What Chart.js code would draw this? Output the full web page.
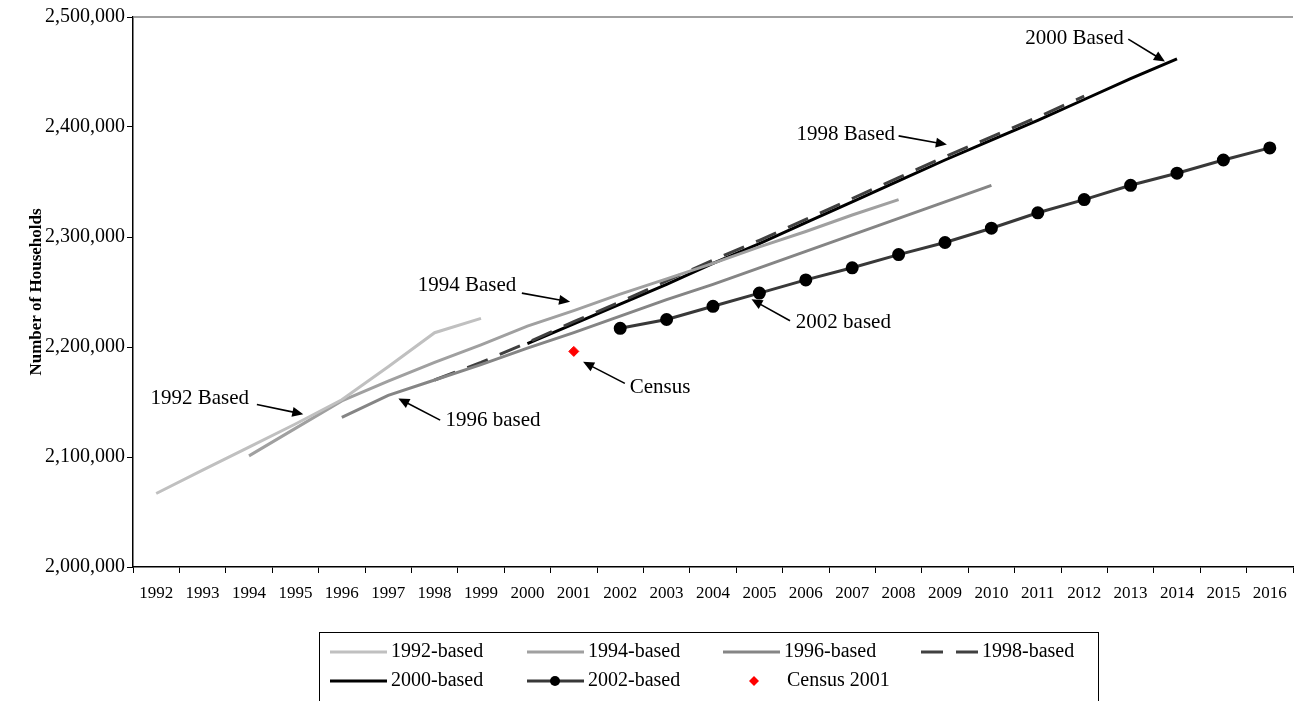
<!DOCTYPE html>
<html>
<head>
<meta charset="utf-8">
<title>Household projections</title>
<script src="https://cdn.jsdelivr.net/npm/chart.js@4.4.1/dist/chart.umd.min.js"></script>
<style>
  body { margin: 0; background: #fff; }
  #wrap { width: 1294px; height: 701px; }
</style>
</head>
<body>
<div id="wrap"><canvas id="chart" width="1294" height="701"></canvas></div>
<script>
const years = ["1992", "1993", "1994", "1995", "1996", "1997", "1998", "1999", "2000", "2001", "2002", "2003", "2004",
  "2005", "2006", "2007", "2008", "2009", "2010", "2011", "2012", "2013", "2014", "2015", "2016"];

const based1992 = [2066800, 2088000, 2109000, 2130000, 2152000, 2182000, 2213000, 2226000,
  null, null, null, null, null, null, null, null, null, null, null, null, null, null, null, null, null];
const based1994 = [null, null, 2101000, 2126000, 2151000, 2169000, 2186000, 2202000, 2219000, 2233000, 2248000,
  2262000, 2276000, 2291000, 2305000, 2320000, 2334000, null, null, null, null, null, null, null, null];
const based1996 = [null, null, null, null, 2136000, 2156000, 2170000, 2184000, 2199000, 2213000, 2228000, 2243000,
  2257000, 2272000, 2287000, 2302000, 2317000, 2332000, 2347000, null, null, null, null, null, null];
const based1998 = [null, null, null, null, null, null, 2170000, 2186000, 2204000, 2223000, 2241000, 2260000,
  2279000, 2297000, 2316000, 2335000, 2354000, 2373000, 2391000, 2409000, 2428000, null, null, null, null];
const based2000 = [null, null, null, null, null, null, null, null, 2203000, 2221000, 2239000, 2257000, 2276000,
  2294000, 2313000, 2332000, 2351000, 2370000, 2388000, 2406000, 2425000, 2444000, 2462000, null, null];
const based2002 = [null, null, null, null, null, null, null, null, null, null, 2217000, 2225000, 2237000, 2249000,
  2261000, 2272000, 2284000, 2295000, 2308000, 2322000, 2334000, 2347000, 2358000, 2370000, 2381000];
const census2001 = [null, null, null, null, null, null, null, null, null, 2196000,
  null, null, null, null, null, null, null, null, null, null, null, null, null, null, null];

// labels on the plot: text centre, arrow start, arrow tip (x in years, y in households)
const notes = [
  { text: "1992 Based", tx: 1992.94, ty: 2153500, fx: 1994.17, fy: 2147800, ax: 1995.17, ay: 2138900 },
  { text: "1994 Based", tx: 1998.70, ty: 2256300, fx: 1999.88, fy: 2249000, ax: 2000.92, ay: 2241100 },
  { text: "1996 based", tx: 1999.26, ty: 2133500, fx: 1998.12, fy: 2133500, ax: 1997.22, ay: 2153200 },
  { text: "Census", tx: 2002.86, ty: 2163500, fx: 2002.10, fy: 2166900, ax: 2001.20, ay: 2186500 },
  { text: "2002 based", tx: 2006.81, ty: 2222000, fx: 2005.66, fy: 2223800, ax: 2004.83, ay: 2243300 },
  { text: "1998 Based", tx: 2006.86, ty: 2392800, fx: 2008.00, fy: 2391900, ax: 2009.04, ay: 2384000 },
  { text: "2000 Based", tx: 2011.79, ty: 2480800, fx: 2012.95, fy: 2479900, ax: 2013.74, ay: 2459500 }
];

const serif = "'Liberation Serif', 'Times New Roman', serif";

function drawArrow(ctx, x1, y1, x2, y2) {
  const ang = Math.atan2(y2 - y1, x2 - x1);
  const head = 11, half = 5;
  const c = Math.cos(ang), s = Math.sin(ang);
  ctx.beginPath();
  ctx.moveTo(x1, y1);
  ctx.lineTo(x2 - head * c * 0.7, y2 - head * s * 0.7);
  ctx.stroke();
  ctx.beginPath();
  ctx.moveTo(x2, y2);
  ctx.lineTo(x2 - head * c + half * s, y2 - head * s - half * c);
  ctx.lineTo(x2 - head * c - half * s, y2 - head * s + half * c);
  ctx.closePath();
  ctx.fill();
}

// legend slots: sample start x, row y
const legendSlots = [[330, 652], [527, 652], [723, 652], [921, 652], [330, 681], [527, 681], [726, 681]];

const extras = {
  id: "extras",
  afterDraw(chart) {
    const ctx = chart.ctx;
    const xs = chart.scales.x, ys = chart.scales.y;
    const area = chart.chartArea;

    ctx.save();
    // top edge of the plot
    ctx.strokeStyle = "#808080";
    ctx.lineWidth = 1.5;
    ctx.beginPath();
    ctx.moveTo(area.left, area.top);
    ctx.lineTo(area.right, area.top);
    ctx.stroke();

    // notes with arrows
    ctx.fillStyle = "#000";
    ctx.strokeStyle = "#000";
    ctx.lineWidth = 1.6;
    ctx.font = "21px " + serif;
    ctx.textAlign = "center";
    ctx.textBaseline = "middle";
    notes.forEach(n => {
      ctx.fillText(n.text, xs.getPixelForValue(n.tx - 1992), ys.getPixelForValue(n.ty));
      drawArrow(ctx,
        xs.getPixelForValue(n.fx - 1992), ys.getPixelForValue(n.fy),
        xs.getPixelForValue(n.ax - 1992), ys.getPixelForValue(n.ay));
    });

    // legend
    ctx.lineWidth = 1;
    ctx.strokeStyle = "#000";
    ctx.strokeRect(319.5, 632.5, 779, 80);
    ctx.font = "20px " + serif;
    ctx.textAlign = "left";
    chart.data.datasets.forEach((d, i) => {
      const [x, y] = legendSlots[i];
      if (d.showLine === false) {
        ctx.fillStyle = d.pointBackgroundColor;
        ctx.beginPath();
        ctx.moveTo(x + 28, y - 5);
        ctx.lineTo(x + 33, y);
        ctx.lineTo(x + 28, y + 5);
        ctx.lineTo(x + 23, y);
        ctx.closePath();
        ctx.fill();
        ctx.fillStyle = "#000";
        ctx.fillText(d.label, x + 61, y);
        return;
      }
      ctx.strokeStyle = d.borderColor;
      ctx.lineWidth = d.borderWidth;
      ctx.setLineDash(d.borderDash || []);
      ctx.beginPath();
      ctx.moveTo(x, y);
      ctx.lineTo(x + 57, y);
      ctx.stroke();
      ctx.setLineDash([]);
      if (d.pointRadius) {
        ctx.fillStyle = d.pointBackgroundColor;
        ctx.beginPath();
        ctx.arc(x + 28, y, d.pointRadius, 0, Math.PI * 2);
        ctx.fill();
      }
      ctx.fillStyle = "#000";
      ctx.fillText(d.label, x + 61, y);
    });
    ctx.restore();
  }
};

const ctx = document.getElementById("chart").getContext("2d");
window.chartInstance = new Chart(ctx, {
  type: "line",
  data: {
    labels: years,
    datasets: [
      { label: "1992-based", data: based1992, borderColor: "#c0c0c0", borderWidth: 3, pointRadius: 0 },
      { label: "1994-based", data: based1994, borderColor: "#a0a0a0", borderWidth: 3, pointRadius: 0 },
      { label: "1996-based", data: based1996, borderColor: "#858585", borderWidth: 3, pointRadius: 0 },
      { label: "1998-based", data: based1998, borderColor: "#404040", borderWidth: 3, borderDash: [22, 13], pointRadius: 0 },
      { label: "2000-based", data: based2000, borderColor: "#000000", borderWidth: 3, pointRadius: 0 },
      { label: "2002-based", data: based2002, borderColor: "#383838", borderWidth: 3, pointRadius: 5,
        pointBackgroundColor: "#000", pointBorderColor: "#000" },
      { label: "Census 2001", data: census2001, showLine: false, pointStyle: "rectRot", pointRadius: 5,
        pointBackgroundColor: "#ff0000", pointBorderColor: "#ff0000", borderColor: "#ff0000", order: -1 }
    ]
  },
  options: {
    responsive: false,
    animation: false,
    devicePixelRatio: 1,
    layout: { autoPadding: false, padding: { top: 17, right: 1, left: 0, bottom: 0 } },
    elements: { line: { tension: 0 } },
    plugins: {
      legend: { display: false },
      tooltip: { enabled: false }
    },
    scales: {
      x: {
        offset: true,
        grid: { offset: true, drawOnChartArea: false, color: "#000", tickLength: 6 },
        border: { color: "#000", width: 1.5 },
        ticks: { color: "#000", autoSkip: false, maxRotation: 0, padding: 5,
          font: { family: serif, size: 17, lineHeight: 1.85 } },
        afterFit: s => {
          s.height = 134;
          s.paddingLeft = 0;
          s.paddingRight = 0;
        }
      },
      y: {
        min: 2000000,
        max: 2500000,
        grid: { drawOnChartArea: false, color: "#000", tickLength: 6 },
        border: { color: "#000", width: 1.5 },
        ticks: {
          stepSize: 100000,
          color: "#000",
          padding: 2,
          font: { family: serif, size: 20 },
          callback: v => v.toLocaleString("en-US")
        },
        title: {
          display: true,
          text: "Number of Households",
          color: "#000",
          padding: { top: 26, bottom: 0 },
          font: { family: serif, size: 17, weight: "bold" }
        },
        afterFit: s => { s.width = 133; }
      }
    }
  },
  plugins: [extras]
});
</script>
</body>
</html>
